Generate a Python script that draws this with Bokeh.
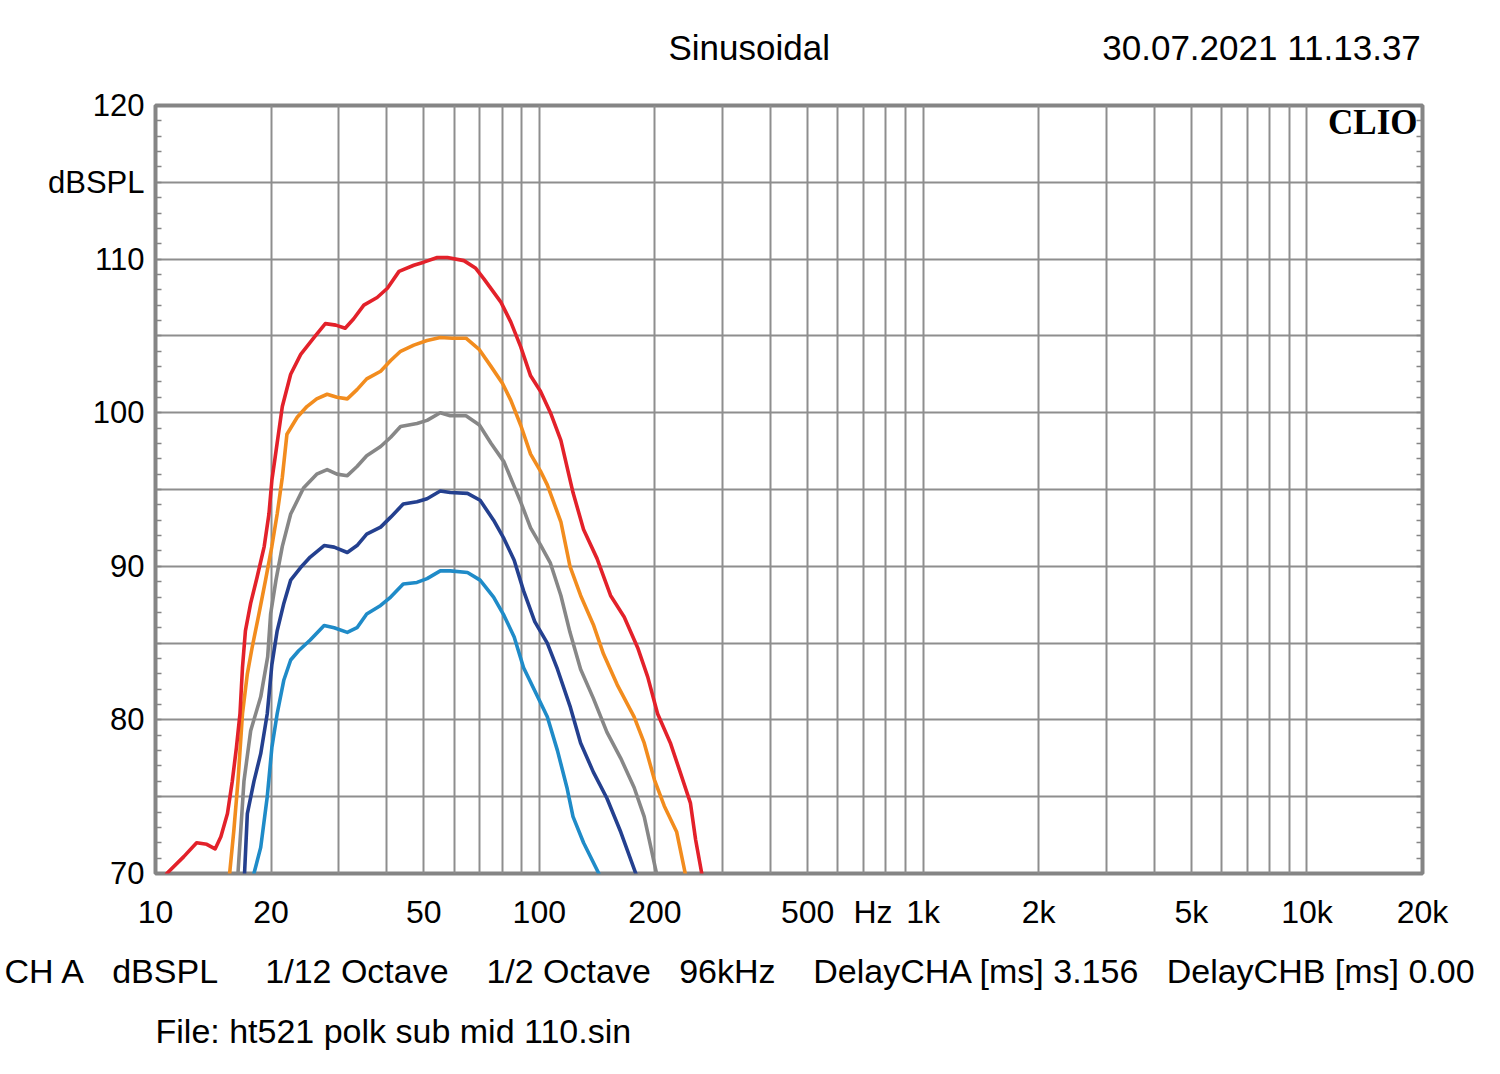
from bokeh.plotting import figure
from bokeh.models import FixedTicker, LinearAxis, Label, Title
from bokeh.embed import file_html
from bokeh.resources import INLINE

# ---------------- data ----------------
red_f = [10.7, 11.85, 12.8, 13.6, 14.3, 14.8, 15.4, 15.85, 16.25, 16.6, 16.85, 17.15, 17.7, 18.4, 19.2,
         19.75, 20.1, 20.5, 21.4, 22.5, 23.9, 25.9, 27.7, 29.5, 31.2, 32.8, 34.9, 37.8, 40.2, 43.1, 47.1,
         50.0, 54.2, 57.6, 63.6, 68.3, 71.8, 79.4, 84.3, 89.4, 94.9, 100.7, 106.9, 113.8, 122.4, 130.4,
         141.4, 153.3, 166.4, 180.4, 191.6, 203.3, 219.5, 232.8, 247.5, 255.4, 265.0]
red_db = [70.0, 71.1, 72.0, 71.9, 71.6, 72.4, 73.9, 76.0, 78.2, 80.4, 83.4, 85.8, 87.6, 89.3, 91.3,
          93.4, 95.6, 97.1, 100.4, 102.5, 103.8, 104.9, 105.8, 105.7, 105.5, 106.1, 107.0, 107.5, 108.1,
          109.2, 109.6, 109.8, 110.1, 110.1, 109.9, 109.4, 108.7, 107.2, 105.9, 104.3, 102.4, 101.4, 100.0,
          98.2, 94.8, 92.4, 90.5, 88.1, 86.7, 84.7, 82.8, 80.4, 78.5, 76.6, 74.6, 72.2, 70.0]

orange_f = [15.6, 16.0, 16.4, 16.85, 17.35, 17.85, 18.6, 19.35, 20.1, 20.75, 21.4, 22.0, 23.4, 24.8, 26.3,
            28.0, 29.7, 31.6, 33.5, 35.5, 38.6, 41.0, 43.5, 47.1, 51.0, 55.2, 59.4, 64.4, 69.8, 74.9, 80.2,
            84.3, 89.4, 94.9, 100.7, 104.9, 113.8, 120.2, 128.1, 138.3, 146.9, 159.5, 176.6, 187.6, 199.5,
            211.6, 228.0, 240.0]
orange_db = [70.0, 72.8, 76.0, 80.4, 83.0, 84.7, 86.9, 89.1, 91.3, 93.4, 95.8, 98.6, 99.7, 100.4, 100.9,
             101.2, 101.0, 100.9, 101.5, 102.2, 102.7, 103.4, 104.0, 104.4, 104.7, 104.9, 104.85, 104.85,
             104.1, 103.0, 101.9, 100.8, 99.2, 97.3, 96.2, 95.3, 92.9, 90.0, 88.1, 86.2, 84.3, 82.3, 80.2,
             78.5, 76.1, 74.4, 72.7, 70.0]

gray_f = [16.4, 17.0, 17.7, 18.8, 19.6, 19.95, 20.6, 21.4, 22.5, 24.3, 26.3, 28.0, 29.7, 31.6, 33.5, 35.5,
          38.6, 41.0, 43.5, 48.0, 51.0, 55.2, 58.6, 64.4, 69.8, 74.9, 80.9, 86.0, 89.4, 94.9, 100.7, 106.9,
          113.8, 120.2, 128.1, 138.3, 150.0, 163.0, 176.6, 187.6, 194.9, 202.0]
gray_db = [70.0, 76.0, 79.3, 81.5, 84.1, 86.9, 89.1, 91.3, 93.4, 95.1, 96.0, 96.3, 96.0, 95.9, 96.5, 97.2,
           97.8, 98.4, 99.1, 99.3, 99.5, 100.0, 99.8, 99.8, 99.2, 98.0, 96.8, 95.2, 94.2, 92.5, 91.4, 90.2,
           88.1, 85.7, 83.3, 81.4, 79.2, 77.5, 75.6, 73.7, 71.8, 70.0]

navy_f = [17.06, 17.35, 18.05, 18.8, 19.55, 20.1, 20.75, 21.6, 22.5, 23.85, 25.3, 27.5, 29.2, 31.6, 33.5,
          35.5, 38.6, 41.0, 44.2, 48.0, 51.0, 55.2, 58.6, 65.0, 70.1, 76.0, 80.9, 86.0, 91.0, 97.3, 104.9,
          111.5, 120.2, 128.1, 138.3, 150.0, 163.0, 178.4]
navy_db = [70.0, 73.9, 76.0, 77.8, 80.4, 83.6, 85.8, 87.6, 89.1, 89.9, 90.6, 91.35, 91.25, 90.9, 91.35,
           92.1, 92.55, 93.2, 94.05, 94.2, 94.4, 94.9, 94.8, 94.75, 94.3, 93.0, 91.8, 90.4, 88.4, 86.4, 85.0,
           83.3, 80.9, 78.5, 76.6, 74.9, 72.7, 70.0]

lblue_f = [18.05, 18.8, 19.55, 20.1, 20.75, 21.6, 22.5, 23.6, 25.3, 27.5, 29.2, 31.6, 33.5, 35.5, 38.6,
           41.0, 44.2, 48.0, 51.0, 55.2, 58.6, 65.0, 70.1, 76.0, 80.9, 86.0, 91.0, 97.3, 104.9, 111.5, 118.0,
           122.4, 130.4, 142.9]
lblue_db = [70.0, 71.7, 75.0, 78.2, 80.4, 82.6, 83.9, 84.5, 85.2, 86.15, 86.0, 85.7, 86.0, 86.9, 87.45,
            88.0, 88.85, 88.95, 89.2, 89.7, 89.7, 89.6, 89.1, 88.0, 86.8, 85.4, 83.4, 81.9, 80.2, 78.0, 75.6,
            73.7, 72.0, 70.0]

x_tick_values = [10, 20, 50, 100, 200, 500, 740, 1000, 2000, 5000, 10000, 20000]
x_tick_labels = ["10", "20", "50", "100", "200", "500", "Hz", "1k", "2k", "5k", "10k", "20k"]
x_grid_values = [10, 20, 30, 40, 50, 60, 70, 80, 90,
                 100, 200, 300, 400, 500, 600, 700, 800, 900,
                 1000, 2000, 3000, 4000, 5000, 6000, 7000, 8000, 9000,
                 10000, 20000]
y_tick_values = [70, 80, 90, 100, 110, 115, 120]
y_tick_labels = ["70", "80", "90", "100", "110", "dBSPL", "120"]
y_grid_values = [70, 75, 80, 85, 90, 95, 100, 105, 110, 115, 120]
y_minor_values = list(range(70, 121))

header_items = ["Sinusoidal", "30.07.2021 11.13.37"]
footer_items = ["CH A", "dBSPL", "1/12 Octave", "1/2 Octave", "96kHz",
                "DelayCHA [ms] 3.156", "DelayCHB [ms] 0.00"]
file_line = "File: ht521 polk sub mid 110.sin"
logo_text = "CLIO"

# ---------------- layout / style ----------------
FONT = "Liberation Sans"
GRID = "#8e8e8e"
FRAME = "#858585"
NBSP = "\u00a0"
header_gaps = [28]                 # spacing (in no-break spaces) between header items
footer_gaps = [3, 5, 4, 3, 4, 3]   # spacing between footer items

p = figure(width=1484, height=1058, x_axis_type="log", x_range=(10, 20000), y_range=(70, 120),
           output_backend="svg", toolbar_location=None, title_location=None,
           min_border_left=155, min_border_right=62, min_border_top=105, min_border_bottom=185,
           background_fill_color="white", border_fill_color="white")
p.outline_line_color = FRAME
p.outline_line_width = 4

# grids
p.xgrid.ticker = FixedTicker(ticks=x_grid_values)
p.ygrid.ticker = FixedTicker(ticks=y_grid_values)
for g in (p.xgrid, p.ygrid):
    g.grid_line_color = GRID
    g.grid_line_width = 2
    g.grid_line_alpha = 1.0

# x axis
xa = p.xaxis[0]
xa.ticker = FixedTicker(ticks=x_tick_values)
xa.major_label_overrides = dict(zip(x_tick_values, x_tick_labels))
xa.axis_line_color = None
xa.major_tick_line_color = None
xa.minor_tick_line_color = None
xa.major_tick_in = 0
xa.major_tick_out = 0
xa.major_label_standoff = 20
xa.major_label_text_font = FONT
xa.major_label_text_font_size = "32px"
xa.major_label_text_color = "black"

# y axis (left)
ya = p.yaxis[0]
ya.ticker = FixedTicker(ticks=y_tick_values, minor_ticks=y_minor_values)
ya.major_label_overrides = dict(zip(y_tick_values, y_tick_labels))
ya.axis_line_color = None
ya.major_tick_line_color = None
ya.major_tick_in = 0
ya.major_tick_out = 0
ya.minor_tick_in = 6
ya.minor_tick_out = 0
ya.minor_tick_line_color = FRAME
ya.minor_tick_line_width = 1.5
ya.major_label_standoff = 11
ya.major_label_text_font = FONT
ya.major_label_text_font_size = "31px"
ya.major_label_text_color = "black"

# y axis (right): only the small inner ticks
yr = LinearAxis(ticker=FixedTicker(ticks=[], minor_ticks=y_minor_values),
                axis_line_color=None, major_tick_line_color=None,
                major_tick_in=0, major_tick_out=0,
                minor_tick_in=6, minor_tick_out=0,
                minor_tick_line_color=FRAME, minor_tick_line_width=1.5,
                major_label_text_font_size="0px")
p.add_layout(yr, "right")

# curves
series = [
    (lblue_f, lblue_db, "#1f8bc8"),
    (navy_f, navy_db, "#24408f"),
    (gray_f, gray_db, "#878787"),
    (orange_f, orange_db, "#f28c1e"),
    (red_f, red_db, "#e3212a"),
]
for fx, db, col in series:
    p.line(fx, db, line_color=col, line_width=3.6, line_join="round", line_cap="round")


# ---------------- texts around the plot (side-panel titles) ----------------
def joined(items, gaps):
    out = items[0]
    for item, g in zip(items[1:], gaps):
        out += NBSP * g + item
    return out


def spacer(px):
    return Title(text=NBSP, text_font_size="1px", standoff=px, text_color="white")


def line_title(text, size, offset, valign):
    return Title(text=text, text_font=FONT, text_font_size=size, text_font_style="normal",
                 text_color="black", align="left", offset=offset, standoff=0,
                 vertical_align=valign)


# above (first added = nearest to the frame)
p.add_layout(spacer(36), "above")
p.add_layout(line_title(joined(header_items, header_gaps), "35px", 513, "bottom"), "above")

# below (after the x axis)
p.add_layout(spacer(16), "below")
p.add_layout(line_title(joined(footer_items, footer_gaps), "34px", -151, "top"), "below")
p.add_layout(spacer(17), "below")
p.add_layout(line_title(file_line, "34px", 0, "top"), "below")

# logo inside the frame
p.add_layout(Label(x=20000, y=120, x_units="data", y_units="data", x_offset=-5, y_offset=-17,
                   text=logo_text, text_font="Liberation Serif", text_font_size="35px",
                   text_font_style="bold", text_align="right", text_baseline="alphabetic",
                   text_color="black"))

open("out.html", "w").write(file_html(p, INLINE))
